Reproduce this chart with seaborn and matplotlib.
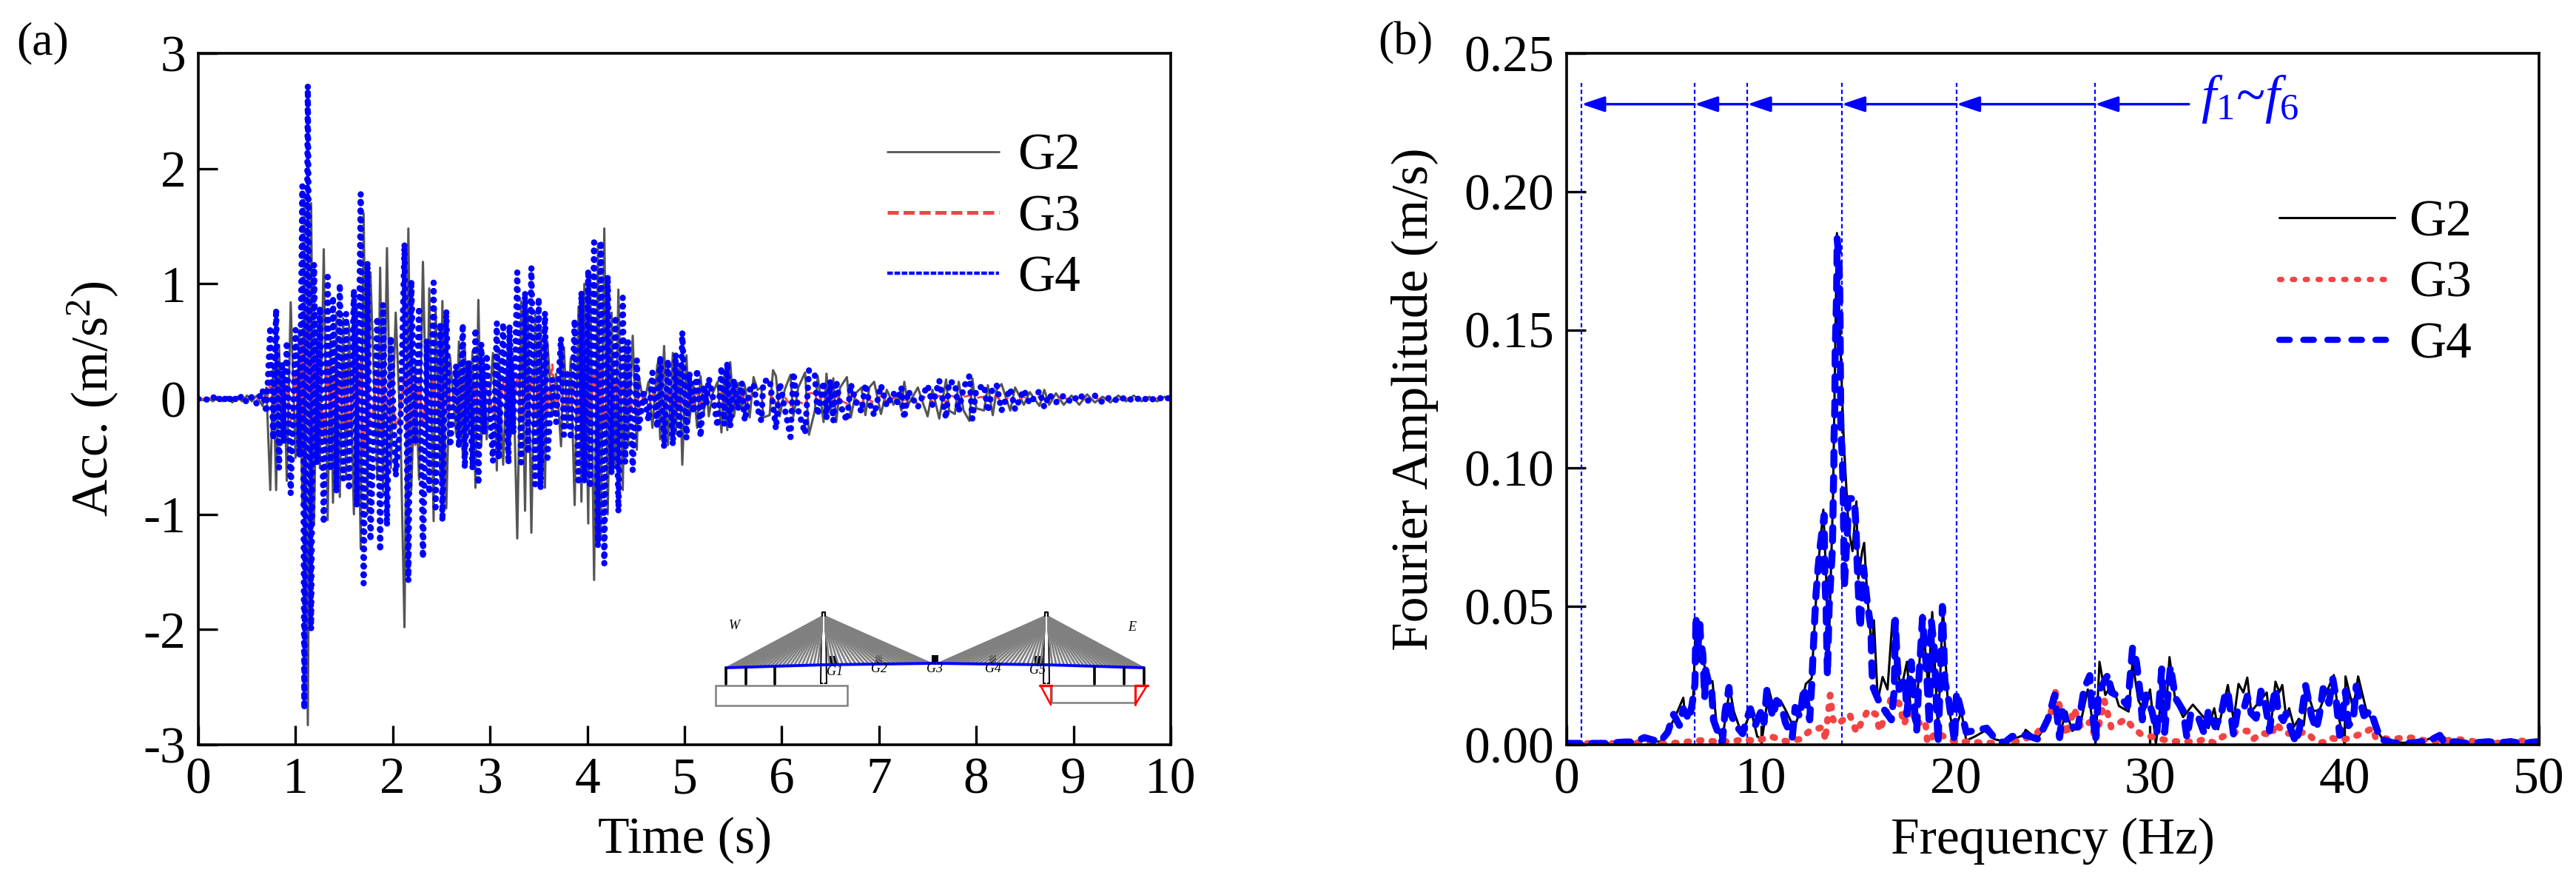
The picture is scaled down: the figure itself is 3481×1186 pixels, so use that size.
import numpy as np
import matplotlib as mpl
mpl.use('Agg')
import seaborn as sns
import matplotlib.pyplot as plt
from matplotlib.lines import Line2D
from matplotlib.patches import Polygon, Rectangle

GREY = '#555555'
RED = '#F24444'
BLUE = '#0000FF'
WIDTH, HEIGHT, DPI = 3481, 1186, 200

# (a) acceleration, read peak by peak
time_s = [
    0.00, 0.05, 0.10, 0.15, 0.20, 0.25, 0.30, 0.35, 0.40, 0.45,
    0.50, 0.55, 0.60, 0.66, 0.70, 0.74, 0.77, 0.80, 0.83, 0.86,
    0.88, 0.91, 0.95, 1.00, 1.04, 1.07, 1.09, 1.126, 1.16, 1.19,
    1.22, 1.25, 1.29, 1.33, 1.36, 1.385, 1.42, 1.455, 1.49, 1.52,
    1.55, 1.60, 1.63, 1.67, 1.70, 1.74, 1.77, 1.84, 1.87, 1.90,
    1.94, 1.98, 2.03, 2.08, 2.12, 2.16, 2.19, 2.23, 2.27, 2.31,
    2.35, 2.375, 2.42, 2.44, 2.49, 2.51, 2.55, 2.59, 2.65, 2.68,
    2.72, 2.74, 2.78, 2.82, 2.85, 2.88, 2.91, 2.94, 2.965, 3.03,
    3.07, 3.09, 3.135, 3.19, 3.20, 3.24, 3.28, 3.32, 3.36, 3.39,
    3.425, 3.465, 3.50, 3.52, 3.565, 3.59, 3.64, 3.68, 3.73, 3.76,
    3.795, 3.83, 3.87, 3.91, 3.94, 3.97, 4.01, 4.03, 4.07, 4.11,
    4.14, 4.175, 4.21, 4.25, 4.29, 4.32, 4.365, 4.39, 4.42, 4.467,
    4.51, 4.53, 4.58, 4.63, 4.67, 4.72, 4.75, 4.79, 4.83, 4.88,
    4.91, 4.95, 4.977, 5.02, 5.05, 5.09, 5.13, 5.165, 5.20, 5.225,
    5.25, 5.29, 5.34, 5.38, 5.41, 5.44, 5.47, 5.51, 5.55, 5.59,
    5.62, 5.67, 5.71, 5.75, 5.79, 5.81, 5.875, 5.91, 5.94, 5.98,
    6.03, 6.09, 6.12, 6.17, 6.24, 6.28, 6.34, 6.37, 6.43, 6.46,
    6.50, 6.53, 6.56, 6.60, 6.67, 6.71, 6.76, 6.82, 6.86, 6.90,
    6.95, 7.02, 7.08, 7.15, 7.19, 7.23, 7.26, 7.30, 7.40, 7.45,
    7.50, 7.55, 7.62, 7.69, 7.72, 7.78, 7.82, 7.87, 7.93, 7.96,
    8.00, 8.08, 8.12, 8.17, 8.21, 8.26, 8.35, 8.40, 8.49, 8.55,
    8.65, 8.70, 8.75, 8.82, 8.90, 8.98, 9.06, 9.14, 9.22, 9.30,
    9.38, 9.46, 9.54, 9.62, 9.70, 9.78, 9.86, 9.94, 10.0,
]
acc_g4 = [
    0, .01, -.01, .02, -.02, .03, -.03, .03, -.02, .03,
    -.03, .02, -.04, .08, -.12, .63, -.35, .78, -.6, .32,
    -.38, .5, -.82, .6, -.5, 1.85, -2.69, 2.72, -2.0, 1.17,
    -.56, .8, -1.08, 1.06, -.62, .89, -.81, 1.0, -.69, .74,
    -.79, .95, -.93, 1.78, -1.6, 1.19, -1.23, .71, -1.32, .82,
    -1.1, .54, -.67, -.2, 1.35, -1.58, 1.03, -.39, .8, -1.38,
    .51, -.82, 1.01, -.94, .66, -1.06, .77, -.41, .29, -.42,
    .65, -.6, .33, -.61, .61, -.74, .48, -.3, .39, -.54,
    .66, -.52, .66, -.56, .64, -.3, 1.1, -.55, .93, -.47,
    1.14, -.74, .88, -.78, .75, -.51, .17, -.2, .53, -.31,
    .25, -.35, .69, -.74, .93, -.72, 1.12, -.77, 1.36, -1.28,
    1.37, -1.43, 1.07, -.65, .72, -.98, .88, -.55, .5, -.62,
    .34, -.26, .05, -.19, .23, -.25, .37, -.42, .34, -.4,
    .39, -.34, .58, -.34, .23, -.12, .26, -.33, .12, -.05,
    .18, .03, -.24, .28, -.22, .32, -.24, .17, -.09, .14,
    -.19, .08, .13, -.08, -.19, .15, .17, -.05, -.26, .14,
    -.08, -.33, .23, -.1, -.3, .25, .21, -.14, .15, -.17,
    .16, -.19, .16, -.05, -.19, .13, -.02, -.11, .13, -.03,
    -.14, .12, -.06, .05, -.03, .1, -.17, .07, -.07, .03,
    .12, -.05, .16, -.17, .15, .14, -.11, .1, .2, -.17,
    .08, .12, -.11, .1, .12, -.1, .09, -.09, .08, -.04,
    .07, -.07, .04, -.03, .03, -.03, .04, -.02, .03, -.03,
    .02, -.02, .02, -.02, .02, -.02, .02, -.01, .02,
]
acc_g2 = [
    0, -.01, .01, -.02, .02, -.02, .02, -.03, .02, -.02,
    .03, -.02, .03, -.06, .10, -.79, .30, -.79, .47, -.38,
    .3, -.71, .84, -.51, .6, -.9, 1.74, -2.83, 1.7, -1.08,
    .5, -.6, 1.3, -1.05, .55, -.9, .75, -.85, .7, -.7,
    .65, -1.0, .8, -1.3, 1.61, -1.0, 1.1, -.7, 1.14, -.8,
    1.31, -.6, .75, -.3, -1.98, 1.48, -.79, .3, -.7, 1.19,
    -.4, .96, -1.06, .8, -.7, .85, -.95, .36, -.3, .5,
    -.5, .45, -.3, .41, -.77, .86, -.4, .3, -.35, .4,
    -.62, .4, -.57, .6, -.45, .2, -1.21, .85, -.97, .75,
    -1.16, .75, -.7, .6, -.77, .5, -.15, .22, -.41, .45,
    -.25, .35, -.92, .8, -.89, 1.0, -1.08, 1.1, -1.57, 1.35,
    -1.2, 1.48, -1.0, .75, -.6, .95, -.79, .5, -.4, .55,
    -.44, .2, -.05, .15, -.25, .3, -.35, .46, -.4, .4,
    -.3, .3, -.57, .38, -.2, .15, -.25, .2, -.12, .1,
    -.15, .05, .15, -.29, .25, -.27, .32, -.15, .14, -.1,
    .12, -.16, .19, .08, .1, -.16, -.14, .25, .2, -.15,
    .08, .21, -.15, .1, .23, -.31, -.1, .2, -.2, .22,
    -.12, .18, -.2, .1, .19, -.16, .05, .1, -.14, .1,
    .15, -.13, .08, -.05, .05, -.1, .15, -.05, .1, -.03,
    -.15, .08, -.17, .17, -.1, -.13, .15, -.1, -.19, .18,
    -.08, -.1, .12, -.14, .08, .13, -.1, .1, -.05, .06,
    -.06, .08, -.05, .05, -.05, .03, -.05, .04, -.03, .02,
    -.03, .03, -.02, .03, -.02, .02, -.02, .02, 0,
]
acc_g3 = [
    0, 0, 0, .005, -.005, .01, -.01, .01, -.01, .01,
    -.01, .01, -.01, .03, -.03, .15, -.1, .18, -.15, .1,
    -.08, .12, -.2, .2, -.3, .5, -.67, .8, -.6, .4,
    -.2, .3, -.35, .3, -.25, .3, -.3, .3, -.25, .25,
    -.3, .3, -.35, .35, -.5, .3, -.3, .25, -.3, .25,
    -.25, .2, -.25, -.1, .25, -.4, .2, -.4, .2, -.25,
    .15, -.2, .2, -.2, .15, -.22, .18, -.1, .12, -.15,
    .14, -.14, .12, -.12, .14, -.15, .12, -.1, .1, -.12,
    .15, -.15, .15, -.13, .15, -.1, .2, -.16, .18, -.15,
    .2, -.16, .17, -.17, .15, -.12, .3, -.08, .12, -.1,
    .08, -.1, .15, -.16, .18, -.16, .2, -.2, .25, -.25,
    .25, -.25, .2, -.15, .15, -.17, .15, -.12, .1, -.12,
    .08, -.08, .02, -.06, .06, -.06, .08, -.1, .08, -.08,
    .08, -.08, .1, -.09, .06, -.06, .05, -.05, .04, -.03,
    .04, -.02, -.05, .06, -.05, .06, -.05, .04, -.03, .03,
    -.04, .03, .04, -.03, -.04, .04, .04, .01, -.05, .04,
    .02, -.06, .05, -.02, -.05, .05, .05, -.04, .04, -.04,
    .03, -.04, .03, -.01, -.04, .03, 0, -.04, .03, -.01,
    -.03, .03, -.02, .01, -.01, .02, -.03, .02, -.04, .01,
    .03, -.02, .03, -.03, .03, .02, -.02, .02, .03, -.03,
    .01, .02, -.02, .02, .02, -.02, .02, -.02, .02, -.01,
    .02, -.02, .01, -.01, .01, -.01, .01, -.01, .01, -.01,
    .005, -.005, .005, -.005, .005, -.005, .005, -.005, 0,
]

# (b) Fourier amplitude
freq_g2 = [
    0, 1, 2, 3, 3.5, 4, 4.4, 4.8, 5.3, 5.7,
    6.0, 6.1, 6.3, 6.5, 6.65, 6.8, 7, 7.2, 7.5, 7.7,
    8, 8.2, 8.4, 8.6, 9, 9.3, 9.5, 9.8, 10.05, 10.4,
    10.7, 11.0, 11.3, 11.7, 12, 12.3, 12.6, 12.9, 13.2, 13.35,
    13.45, 13.7, 13.9, 14.05, 14.25, 14.5, 14.7, 14.9, 15.0, 15.2,
    15.3, 15.45, 15.7, 15.8, 16.0, 16.25, 16.5, 16.75, 16.95, 17.2,
    17.5, 17.7, 17.95, 18.1, 18.3, 18.6, 18.8, 19.1, 19.35, 19.6,
    19.9, 20.3, 20.55, 21, 21.5, 22, 22.6, 23.5, 23.6, 24.2,
    24.7, 25.1, 25.4, 25.7, 26, 26.4, 26.8, 27.2, 27.4, 27.7,
    28.05, 28.4, 28.9, 29.1, 29.4, 29.7, 30, 30.3, 30.6, 30.8,
    31, 31.3, 31.7, 32.2, 32.8, 33, 33.3, 33.5, 34, 34.3,
    34.55, 34.8, 35, 35.2, 35.5, 36, 36.2, 36.45, 36.65, 36.8,
    37, 37.15, 37.4, 37.65, 37.9, 38.1, 38.4, 38.7, 38.95, 39.45,
    39.7, 40, 40.05, 40.45, 40.7, 41.1, 41.7, 42, 43, 44,
    44.9, 45.5, 46.5, 47.5, 48.5, 50,
]
amp_g2 = [
    .0005, .0005, .0005, .001, .001, .002, .0015, .001, .006, .012,
    .017, .01, .012, .015, .045, .03, .034, .022, .023, .008,
    .0005, .012, .02, .012, .004, .009, .012, .003, .002, .02,
    .012, .016, .012, .006, .012, .022, .024, .062, .085, .06,
    .027, .09, .185, .15, .11, .078, .07, .088, .06, .07,
    .073, .055, .034, .045, .016, .0245, .02, .045, .03, .02,
    .03, .012, .006, .025, .047, .02, .048, .005, .05, .015,
    .004, .012, .0015, .003, .005, .002, .001, .0035, .0054, .002,
    .008, .018, .005, .012, .005, .007, .02, .0005, .03, .018,
    .022, .014, .012, .03, .016, .012, .02, .0003, .018, .01,
    .0317, .016, .01, .0145, .0096, .006, .0132, .0056, .0216, .009,
    .022, .0189, .0243, .012, .0145, .0189, .006, .0228, .019, .0216,
    .01, .0132, .0065, .0094, .007, .0189, .0123, .0123, .017, .0252,
    .01, .0002, .0247, .013, .0247, .013, .005, .0015, .0007, .0011,
    .0038, .0008, .0006, .0008, .0006, .0006,
]
freq_g3 = [
    1.05, 2.4, 3.7, 4.3, 5.8, 6.4, 7.0, 7.6, 8.5, 9.2,
    9.7, 10.5, 11.3, 12, 12.5, 13.2, 13.3, 13.55, 13.65, 13.7,
    13.95, 14.55, 14.9, 15.5, 15.9, 16.1, 16.7, 17.1, 17.35, 17.6,
    18.2, 18.45, 18.55, 19.0, 19.5, 20.1, 20.7, 21.3, 22.7, 23.4,
    24.15, 24.85, 25.1, 25.35, 25.7, 26.1, 26.45, 26.95, 27.2, 27.65,
    28, 28.3, 28.75, 29.1, 29.5, 30.5, 31.2, 31.7, 32.27, 32.84,
    33.3, 33.73, 34.24, 34.7, 35, 35.3, 35.75, 36.26, 36.45, 36.9,
    37.4, 38.04, 38.4, 38.86, 39.3, 39.8, 40.3, 40.8, 41.46, 41.6,
    42.5, 43, 43.5, 44.06, 45, 45.65, 46.4, 47, 48.2, 48.8,
    49.96,
]
amp_g3 = [
    .0005, .0005, .0007, .0002, .0007, .0012, .0016, .0012, .0012, .002,
    .0012, .003, .0012, .002, .005, .0064, .0016, .018, .012, .009,
    .0074, .011, .0045, .0126, .011, .005, .017, .015, .0074, .012,
    .0074, .0083, .0007, .0045, .0026, .0007, .0012, .0007, .0005, .0016,
    .004, .0095, .0198, .014, .0035, .013, .0064, .0083, .0016, .016,
    .0064, .0074, .0093, .0064, .004, .0021, .0012, .0012, .001, .002,
    .0006, .0029, .0043, .005, .005, .002, .0043, .0034, .0078, .0043,
    .0038, .0047, .002, .0007, .0025, .0016, .0025, .0038, .006, .0025,
    .002, .0025, .0025, .0016, .0012, .002, .0016, .0005, .0007, .0016,
    .0007,
]
freq_g4 = [
    0, 1, 2, 3, 3.5, 4.0, 4.3, 4.8, 5.2, 5.5,
    5.8, 6.0, 6.3, 6.45, 6.6, 6.65, 6.75, 6.85, 6.9, 7.0,
    7.1, 7.15, 7.3, 7.45, 7.55, 7.7, 8.0, 8.15, 8.35, 8.45,
    8.7, 9.05, 9.25, 9.45, 9.7, 10.05, 10.15, 10.3, 10.6, 10.8,
    11.05, 11.25, 11.6, 11.75, 12.0, 12.2, 12.5, 12.61, 12.67, 12.74,
    12.82, 12.93, 13.05, 13.24, 13.27, 13.28, 13.34, 13.37, 13.41, 13.5,
    13.66, 13.69, 13.71, 13.74, 13.75, 13.79, 13.8, 13.81, 13.85, 13.88,
    13.9, 13.91, 14.0, 14.04, 14.06, 14.07, 14.08, 14.09, 14.1, 14.17,
    14.2, 14.22, 14.24, 14.26, 14.28, 14.45, 14.46, 14.76, 14.83, 14.89,
    14.93, 15.0, 15.05, 15.1, 15.2, 15.27, 15.45, 15.65, 15.68, 15.74,
    16.1, 16.7, 16.85, 16.9, 17.0, 17.1, 17.4, 17.5, 17.72, 17.9,
    18.0, 18.1, 18.3, 18.4, 18.5, 18.65, 18.75, 18.9, 19.1, 19.2,
    19.32, 19.4, 19.45, 19.65, 19.95, 20.05, 20.3, 20.55, 21.6, 22.05,
    22.5, 22.9, 23.6, 24.25, 24.75, 25.1, 25.35, 25.5, 25.85, 26.3,
    26.6, 26.9, 27.0, 27.2, 27.35, 27.85, 28.0, 28.5, 28.85, 29.1,
    29.3, 29.5, 29.6, 29.8, 30.1, 30.35, 30.6, 30.75, 31.05, 31.3,
    31.7, 31.9, 32.1, 32.5, 32.8, 33.0, 33.35, 33.65, 33.85, 34.0,
    34.3, 34.5, 34.8, 35.0, 35.2, 35.45, 35.6, 35.7, 35.9, 36.15,
    36.3, 36.45, 36.6, 36.85, 37.0, 37.2, 37.5, 37.7, 38.0, 38.3,
    38.55, 38.7, 38.9, 39.2, 39.4, 39.55, 39.75, 39.95, 40.05, 40.2,
    40.45, 40.6, 40.8, 41.0, 41.35, 41.6, 41.85, 42.5, 43.0, 43.55,
    44.4, 44.9, 45.15, 45.65, 46.3, 46.65, 47.4, 47.9, 48.55, 49.1,
    49.9,
]
amp_g4 = [
    .0005, .0005, .0005, .001, .001, .0026, .002, .001, .0045, .011,
    .007, .013, .009, .0145, .022, .0465, .035, .0435, .037, .033,
    .017, .027, .0226, .021, .009, .006, .0007, .012, .0207, .011,
    .007, .004, .009, .013, .007, .013, .008, .02, .01, .016,
    .014, .008, .0026, .0135, .01, .0207, .009, .0226, .0326, .043,
    .054, .064, .0725, .083, .067, .06, .05, .039, .025, .05,
    .07, .08, .09, .10, .111, .122, .132, .142, .153, .163,
    .174, .183, .176, .165, .155, .144, .134, .124, .113, .105,
    .097, .092, .081, .07, .057, .079, .089, .089, .085, .077,
    .067, .056, .047, .042, .055, .064, .052, .042, .031, .021,
    .015, .009, .02, .045, .03, .02, .024, .011, .03, .012,
    .005, .022, .046, .036, .028, .007, .045, .035, .0005, .02,
    .05, .034, .023, .016, .001, .019, .012, .0045, .006, .002,
    .0007, .003, .0035, .002, .0093, .018, .0026, .012, .0064, .0064,
    .02, .025, .014, .0016, .019, .0255, .019, .017, .014, .035,
    .03, .018, .009, .018, .012, .0045, .0274, .0045, .0284, .017,
    .0123, .0025, .0114, .0096, .0038, .0123, .0065, .0105, .018, .0194,
    .0034, .0123, .0123, .0176, .0114, .0096, .014, .0194, .0158, .005,
    .015, .0203, .0114, .0087, .0114, .0065, .0007, .0065, .0214, .0105,
    .0056, .0105, .0203, .015, .0238, .0176, .0034, .014, .0194, .0069,
    .0087, .0212, .0158, .0105, .0123, .0069, .002, .0007, .0004, .0007,
    .0016, .0034, .0005, .0011, .0005, .0007, .0011, .0007, .0011, .0005,
    .0011,
]
mode_freqs = [0.77, 6.58, 9.3, 14.15, 20.05, 27.17]

labels = ['G2', 'G3', 'G4']
time_ticks = list(range(0, 11))
acc_ticks = [-3, -2, -1, 0, 1, 2, 3]
freq_ticks = [0, 10, 20, 30, 40, 50]
amp_ticks = [0.00, 0.05, 0.10, 0.15, 0.20, 0.25]

sns.set_theme(style='ticks')
plt.rcParams['font.family'] = ['Liberation Serif', 'DejaVu Serif']
plt.rcParams['mathtext.fontset'] = 'custom'
plt.rcParams['mathtext.rm'] = 'Liberation Serif'
plt.rcParams['mathtext.it'] = 'Liberation Serif:italic'
plt.rcParams['axes.unicode_minus'] = False
plt.rcParams['axes.linewidth'] = 1.3
plt.rcParams['axes.edgecolor'] = 'black'
plt.rcParams['text.color'] = 'black'
plt.rcParams['axes.labelcolor'] = 'black'


def px_axes(fig, left, top, right, bottom):
    return fig.add_axes([left / WIDTH, 1 - bottom / HEIGHT,
                         (right - left) / WIDTH, (bottom - top) / HEIGHT])


def style_axes(ax, xticks, yticks, yfmt):
    ax.set_xlim(xticks[0], xticks[-1])
    ax.set_ylim(yticks[0], yticks[-1])
    ax.set_xticks(xticks)
    ax.set_yticks(yticks)
    ax.set_yticklabels([yfmt % v for v in yticks])
    ax.tick_params(direction='in', length=9.5, width=1.2, labelsize=25,
                   colors='black', pad=6)


def plot_time(ax):
    sns.lineplot(x=time_s, y=acc_g2, ax=ax, color=GREY, linewidth=1.1,
                 estimator=None, sort=False, legend=False)
    sns.lineplot(x=time_s, y=acc_g3, ax=ax, color=RED, linewidth=1.0,
                 estimator=None, sort=False, legend=False, dashes=(3.5, 1.5))
    line = sns.lineplot(x=time_s, y=acc_g4, ax=ax, color=BLUE, linewidth=3.0,
                        estimator=None, sort=False, legend=False).lines[-1]
    line.set_linestyle((0, (0.05, 1.35)))
    line.set_dash_capstyle('round')
    style_axes(ax, time_ticks, acc_ticks, '%d')
    ax.set_xlabel('Time (s)', fontsize=25)
    ax.set_ylabel('Acc. (m/s$^2$)', fontsize=25)
    ax.xaxis.set_label_coords(0.5, -0.105)
    ax.yaxis.set_label_coords(-0.08, 0.5)
    handles = [
        Line2D([], [], color=GREY, lw=1.0),
        Line2D([], [], color=RED, lw=1.8, ls=(0, (3.0, 1.3))),
        Line2D([], [], color=BLUE, lw=1.6, ls=(0, (1.7, 0.5))),
    ]
    ax.legend(handles, labels, loc='upper left', bbox_to_anchor=(0.7085, 0.884),
              frameon=False, fontsize=25, handlelength=2.18, handletextpad=0.35,
              labelspacing=0.27, borderpad=0, borderaxespad=0)


def plot_freq(ax):
    y_arrow = 0.2316
    for f in mode_freqs:
        ax.plot([f, f], [0, 0.2393], color=BLUE, lw=0.8, ls=(0, (2.6, 1.7)), zorder=1)
    ends = mode_freqs[1:] + [32.0]
    for f, end in zip(mode_freqs, ends):
        ax.annotate('', xy=(f, y_arrow), xytext=(end, y_arrow),
                    arrowprops=dict(arrowstyle='-|>,head_length=0.95,head_width=0.32',
                                    color=BLUE, lw=1.2, mutation_scale=10,
                                    shrinkA=0, shrinkB=0))
    ax.text(32.6, 0.2335, r'$f_{1}$~$f_{6}$', color=BLUE, fontsize=26, va='center')

    sns.lineplot(x=freq_g2, y=amp_g2, ax=ax, color='black', linewidth=1.1,
                 estimator=None, sort=False, legend=False)
    red = sns.lineplot(x=freq_g3, y=amp_g3, ax=ax, color=RED, linewidth=3.2,
                       estimator=None, sort=False, legend=False).lines[-1]
    red.set_linestyle((0, (0.3, 1.6)))
    red.set_dash_capstyle('round')
    blue = sns.lineplot(x=freq_g4, y=amp_g4, ax=ax, color=BLUE, linewidth=3.4,
                        estimator=None, sort=False, legend=False).lines[-1]
    blue.set_linestyle((0, (1.9, 1.7)))
    blue.set_dash_capstyle('round')

    style_axes(ax, freq_ticks, amp_ticks, '%.2f')
    ax.set_xlabel('Frequency (Hz)', fontsize=25)
    ax.set_ylabel('Fourier Amplitude (m/s)', fontsize=25)
    ax.xaxis.set_label_coords(0.5, -0.105)
    ax.yaxis.set_label_coords(-0.132, 0.5)
    handles = [
        Line2D([], [], color='black', lw=1.1),
        Line2D([], [], color=RED, lw=2.6, ls=(0, (0.4, 2.0)), dash_capstyle='round'),
        Line2D([], [], color=BLUE, lw=3.0, ls=(0, (1.7, 2.2)), dash_capstyle='round'),
    ]
    ax.legend(handles, labels, loc='upper left', bbox_to_anchor=(0.733, 0.788),
              frameon=False, fontsize=25, handlelength=2.25, handletextpad=0.27,
              labelspacing=0.27, borderpad=0, borderaxespad=0)


def draw_bridge(ov):
    # small elevation sketch of the bridge, in figure pixels
    deck_x = [981, 1113, 1263, 1414, 1545]
    deck_y = [902, 898, 896, 898, 902]
    for tower, spans in [(1113, (982, 1258)), (1414, (1268, 1545))]:
        for end, near in [(spans[0], tower - 8), (spans[1], tower + 8)]:
            for x in np.linspace(near, end, 24):
                ov.plot([tower, x], [832, np.interp(x, deck_x, deck_y)],
                        color='#808080', lw=1.0, solid_capstyle='butt')
        ov.add_patch(Polygon([[tower - 3, 850], [tower + 3, 850], [tower + 4, 923], [tower - 4, 923]],
                             fc='white', ec='black', lw=0.7))
        ov.plot([tower, tower], [827, 923], color='white', lw=0.7)
        ov.plot([tower - 2, tower - 2, tower + 2, tower + 2], [832, 827, 827, 832], color='black', lw=0.8)
    ov.plot(deck_x, deck_y, color=BLUE, lw=1.4)
    for x in [981, 1008, 1047, 1479, 1519, 1546]:
        ov.plot([x, x], [902, 924], color='black', lw=1.3)
    ov.add_patch(Rectangle((967, 926), 178, 27, fc='none', ec='#808080', lw=0.9))
    ov.add_patch(Rectangle((1421, 926), 113, 23, fc='none', ec='#808080', lw=0.9))
    ov.plot([1405, 1421], [926, 926], color='red', lw=1.2)
    ov.plot([1406, 1420], [926, 952], color='red', lw=0.9)
    ov.plot([1420, 1420], [926, 952], color='red', lw=0.6)
    ov.plot([1534, 1551], [926, 926], color='red', lw=1.2)
    ov.plot([1534, 1534], [926, 952], color='red', lw=1.1)
    ov.plot([1550, 1534], [926, 952], color='red', lw=0.9)
    for x0, x1, y0, y1 in [(1121, 1131, 886, 897), (1183, 1192, 885, 896), (1259, 1268, 885, 895),
                           (1337, 1346, 885, 895), (1398, 1409, 886, 897)]:
        ov.add_patch(Rectangle((x0, y0), x1 - x0, y1 - y0, fc='black', ec='none'))
    for txt, x, y in [('G1', 1128, 907), ('G2', 1188, 904), ('G3', 1263, 904), ('G4', 1342, 904),
                      ('G5', 1402, 906), ('W', 992, 846), ('E', 1530, 847)]:
        ov.text(x, y, txt, fontsize=6.5, style='italic', ha='center', va='center')


if __name__ == '__main__':
    fig = plt.figure(figsize=(WIDTH / DPI, HEIGHT / DPI), dpi=DPI)
    ax_a = px_axes(fig, 268, 72, 1582, 1006)
    ax_b = px_axes(fig, 2117, 72, 3431, 1006)
    plot_time(ax_a)
    plot_freq(ax_b)

    fig.text(22 / WIDTH, 1 - 58 / HEIGHT, '(a)', fontsize=23, va='center')
    fig.text(1862 / WIDTH, 1 - 58 / HEIGHT, '(b)', fontsize=23, va='center')

    ov = fig.add_axes([0, 0, 1, 1], facecolor='none')
    ov.set_xlim(0, WIDTH)
    ov.set_ylim(HEIGHT, 0)
    ov.axis('off')
    draw_bridge(ov)

    plt.savefig('out.png', dpi=DPI)
